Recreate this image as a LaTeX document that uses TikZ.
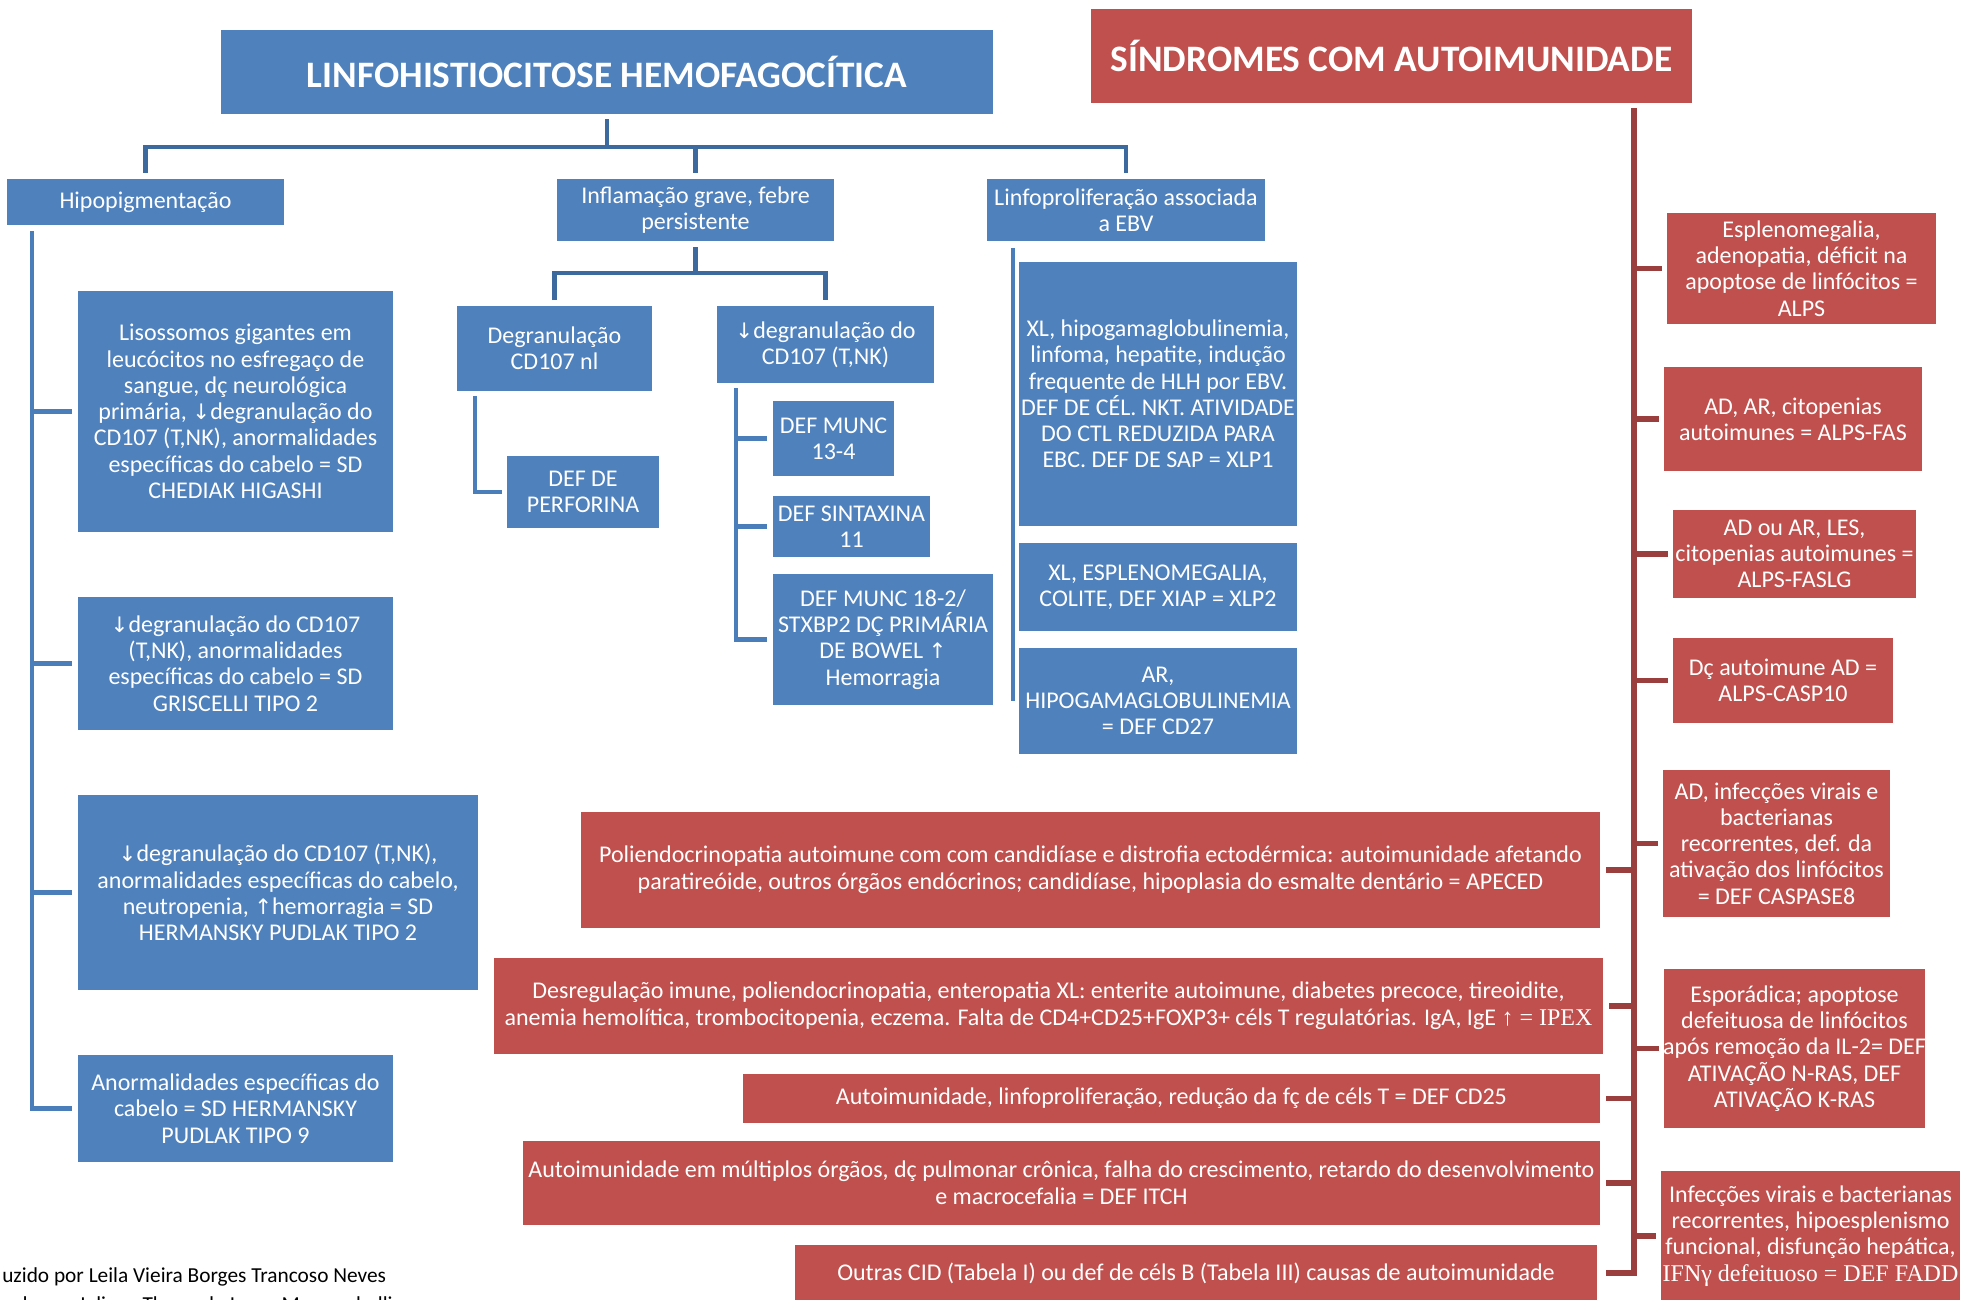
\documentclass[tikz,border=0pt]{standalone}
\usepackage{fontspec}
\setmainfont{Carlito}
\newfontfamily\seriffam{Liberation Serif}
\newfontfamily\arrfam{DejaVu Sans}
\usetikzlibrary{calc}
\definecolor{bfill}{HTML}{4F81BD}
\definecolor{bline}{HTML}{4A7EBB}
\definecolor{bdark}{HTML}{3D6A9E}
\definecolor{rfill}{HTML}{C0504D}
\definecolor{rline}{HTML}{9A3F3D}
\newcommand\arrdn{{\arrfam\fontsize{16}{16}\selectfont ↓}}
\newcommand\arrup{{\arrfam\fontsize{16}{16}\selectfont ↑}}
% #1 text style, #2 box style, #3 name, #4 x1, #5 y1, #6 x2, #7 y2, #8 text
\newcommand\bx[8][]{%
  \node[#2, minimum width={(#6-#4)*0.75pt}, minimum height={(#7-#5)*0.75pt}] (#3) at ({(#4+#6)/2},{(#5+#7)/2}) {};
  \node[txt,#1] (#3t) at (#3.center) {#8};
}
\begin{document}
\begin{tikzpicture}[x=0.75pt,y=-0.75pt,
  bbox/.style={fill=bfill, draw=none, inner sep=0pt, outer sep=0pt},
  rbox/.style={fill=rfill, draw=none, inner sep=0pt, outer sep=0pt},
  txt/.style={text=white, align=center, inner sep=0pt, font=\fontsize{18}{19.7}\selectfont},
  wide/.style={font=\fontsize{18}{20}\selectfont},
  ttl/.style={font=\fontsize{28}{30}\selectfont\bfseries},
  tree/.style={draw=bdark, line width=3.6pt},
  bl/.style={draw=bline, line width=3.3pt},
  rl/.style={draw=rline, line width=4.2pt}]
\useasboundingbox (0,0) rectangle (1961,1300);
\clip (0,0) rectangle (1961,1300);
\fill[white] (0,0) rectangle (1961,1300);

% ---------- blue side ----------
\bx[ttl]{bbox}{title}{221}{30}{993}{114}{LINFOHISTIOCITOSE HEMOFAGOCÍTICA}
\bx{bbox}{hipo}{7}{179}{284}{225}{Hipopigmentação}
\bx{bbox}{infl}{557}{179}{834}{241}{Inflamação grave, febre\\persistente}
\bx{bbox}{linf}{987}{179}{1265}{241}{Linfoproliferação associada\\a EBV}
\bx{bbox}{lis}{78}{291}{393}{532}{Lisossomos gigantes em\\leucócitos no esfregaço de\\sangue, dç neurológica\\primária, \arrdn degranulação do\\CD107 (T,NK), anormalidades\\específicas do cabelo = SD\\CHEDIAK HIGASHI}
\bx{bbox}{gris}{78}{597}{393}{730}{\arrdn degranulação do CD107\\(T,NK), anormalidades\\específicas do cabelo = SD\\GRISCELLI TIPO 2}
\bx{bbox}{hp2}{78}{795}{478}{990}{\arrdn degranulação do CD107 (T,NK),\\anormalidades específicas do cabelo,\\neutropenia, \arrup hemorragia = SD\\HERMANSKY PUDLAK TIPO 2}
\bx{bbox}{hp9}{78}{1055}{393}{1162}{Anormalidades específicas do\\cabelo = SD HERMANSKY\\PUDLAK TIPO 9}
\bx{bbox}{dnl}{457}{306}{652}{391}{Degranulação\\CD107 nl}
\bx{bbox}{dcd}{717}{306}{934}{383}{\arrdn degranulação do\\CD107 (T,NK)}
\bx{bbox}{perf}{507}{456}{659}{528}{DEF DE\\PERFORINA}
\bx{bbox}{m13}{773}{401}{894}{476}{DEF MUNC\\13-4}
\bx{bbox}{sint}{773}{496}{930}{557}{DEF SINTAXINA\\11}
\bx{bbox}{m18}{773}{574}{993}{705}{DEF MUNC 18-2/\\STXBP2 DÇ PRIMÁRIA\\DE BOWEL \arrup\\Hemorragia}
\bx{bbox}{xlp1}{1019}{262}{1297}{526}{XL, hipogamaglobulinemia,\\linfoma, hepatite, indução\\frequente de HLH por EBV.\\DEF DE CÉL. NKT. ATIVIDADE\\DO CTL REDUZIDA PARA\\EBC. DEF DE SAP = XLP1}
\bx{bbox}{xlp2}{1019}{543}{1297}{631}{XL, ESPLENOMEGALIA,\\COLITE, DEF XIAP = XLP2}
\bx{bbox}{cd27}{1019}{648}{1297}{754}{AR,\\HIPOGAMAGLOBULINEMIA\\= DEF CD27}

% ---------- red side ----------
\bx[ttl]{rbox}{rtitle}{1091}{9}{1692}{103}{SÍNDROMES COM AUTOIMUNIDADE}
\bx{rbox}{esp}{1667}{213}{1936}{324}{Esplenomegalia,\\adenopatia, déficit na\\apoptose de linfócitos =\\ALPS}
\bx{rbox}{fas}{1664}{367}{1922}{471}{AD, AR, citopenias\\autoimunes = ALPS-FAS}
\bx{rbox}{faslg}{1673}{510}{1916}{598}{AD ou AR, LES,\\citopenias autoimunes =\\ALPS-FASLG}
\bx{rbox}{casp10}{1673}{638}{1893}{723}{Dç autoimune AD =\\ALPS-CASP10}
\bx{rbox}{casp8}{1663}{770}{1890}{917}{AD, infecções virais e\\bacterianas\\recorrentes, def. da\\ativação dos linfócitos\\= DEF CASPASE8}
\bx{rbox}{ras}{1664}{969}{1925}{1128}{Esporádica; apoptose\\defeituosa de linfócitos\\após remoção da IL-2= DEF\\ATIVAÇÃO N-RAS, DEF\\ATIVAÇÃO K-RAS}
\bx{rbox}{fadd}{1661}{1171}{1960}{1301}{Infecções virais e bacterianas\\recorrentes, hipoesplenismo\\funcional, disfunção hepática,\\{\seriffam IFNγ defeituoso = DEF FADD}}
\bx[wide]{rbox}{ape}{581}{812}{1600}{928}{Poliendocrinopatia autoimune com com candidíase e distrofia ectodérmica: autoimunidade afetando\\paratireóide, outros órgãos endócrinos; candidíase, hipoplasia do esmalte dentário = APECED}
\bx[wide]{rbox}{ipex}{494}{958}{1603}{1054}{Desregulação imune, poliendocrinopatia, enteropatia XL: enterite autoimune, diabetes precoce, tireoidite,\\anemia hemolítica, trombocitopenia, eczema. Falta de CD4+CD25+FOXP3+ céls T regulatórias. IgA, IgE {\seriffam ↑ = IPEX}}
\bx[wide]{rbox}{cd25}{743}{1074}{1600}{1123}{Autoimunidade, linfoproliferação, redução da fç de céls T = DEF CD25}
\bx[wide]{rbox}{itch}{523}{1141}{1600}{1225}{Autoimunidade em múltiplos órgãos, dç pulmonar crônica, falha do crescimento, retardo do desenvolvimento\\e macrocefalia = DEF ITCH}
\bx[wide]{rbox}{cid}{795}{1245}{1597}{1301}{Outras CID (Tabela I) ou def de céls B (Tabela III) causas de autoimunidade}

% ---------- footer ----------
\node[anchor=west, inner sep=0pt, font=\fontsize{16}{19}\selectfont] (ft1) at (2,1277) {uzido por Leila Vieira Borges Trancoso Neves};
\node[anchor=west, inner sep=0pt, font=\fontsize{16}{19}\selectfont] (ft2) at (-3,1306) {cado por Juliana Themudo Lessa Mazzucchelli};

% ---------- connectors ----------
\coordinate (bus) at (607,147);
\coordinate (bus2) at (695,273);
\coordinate (v0) at (32,0);
\coordinate (v1) at (475,0);
\coordinate (v2) at (736,0);
\coordinate (v3) at (1013,0);
\coordinate (sp) at (1634,0);

\draw[tree] ($(title.south)+(0,5)$) -- (title.south |- bus);
\draw[tree] ($(hipo.north)+(0,-6)$) |- (bus) -| ($(linf.north)+(0,-6)$);
\draw[tree] ($(infl.north)+(0,-6)$) -- (infl.north |- bus);
\draw[tree] ($(infl.south)+(0,6)$) -- (infl.south |- bus2);
\draw[tree] ($(dnl.north)+(0,-6)$) |- (bus2) -| ($(dcd.north)+(0,-6)$);

\draw[bl] ($(hipo.south -| v0)+(0,6)$) |- ($(hp9.west)+(-6,0)$);
\foreach \n in {lis,gris,hp2} \draw[bl] (v0 |- \n.west) -- ($(\n.west)+(-6,0)$);
\draw[bl] ($(dnl.south -| v1)+(0,5)$) |- ($(perf.west)+(-5,0)$);
\draw[bl] ($(dcd.south -| v2)+(0,5)$) |- ($(m18.west)+(-6,0)$);
\foreach \n in {m13,sint} \draw[bl] (v2 |- \n.west) -- ($(\n.west)+(-6,0)$);
\draw[bl] ($(linf.south -| v3)+(0,7)$) -- (v3 |- cd27.center);

\draw[rl] ($(rtitle.south -| sp)+(0,5)$) |- ($(cid.east)+(9,0)$);
\foreach \n in {esp,fas,faslg,casp10,casp8,ras,fadd} \draw[rl] (sp |- \n.west) -- ($(\n.west)+(-5,0)$);
\foreach \n in {ape,ipex,cd25,itch} \draw[rl] (sp |- \n.east) -- ($(\n.east)+(6,0)$);
\end{tikzpicture}
\end{document}
